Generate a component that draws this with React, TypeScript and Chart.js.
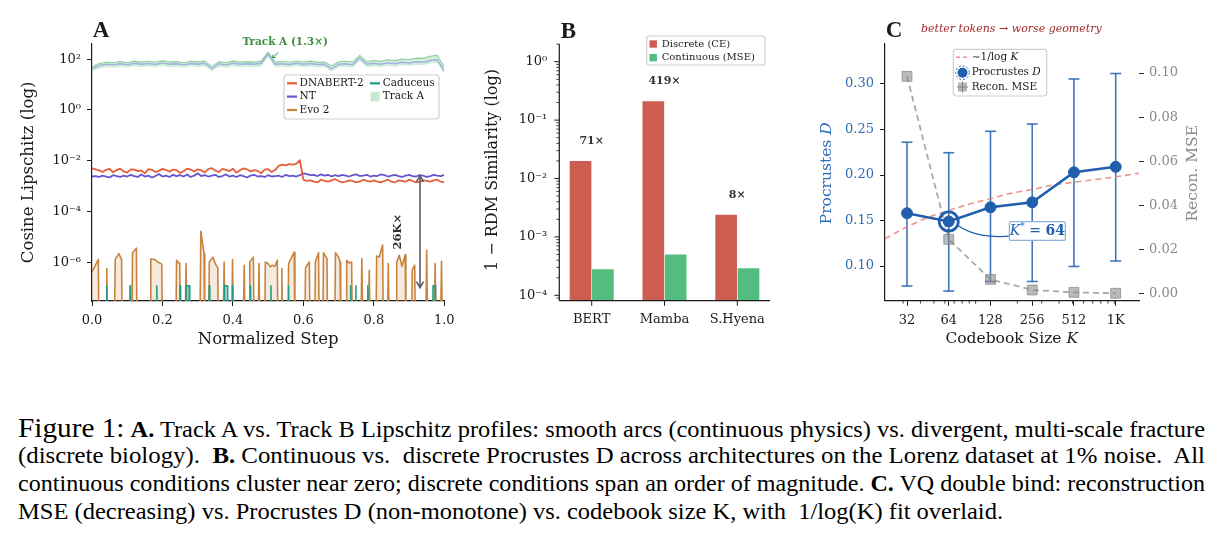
import { useEffect, useLayoutEffect, useRef } from "react";
import type { CSSProperties, ReactNode } from "react";
import { Chart, registerables } from "chart.js";

Chart.register(...registerables);

const FIG_W = 1223;
const FIG_H = 370;
const SERIF = '"DejaVu Serif", serif';
const INK = "#1a1a1a";

/* ---------------- Panel A: Lipschitz profiles ---------------- */
const stepGrid = Array.from({ length: 101 }, (_, i) => i / 100);

const dnabert2 = [
  0.005, 0.0046, 0.0042, 0.0036, 0.0044, 0.0048, 0.0035, 0.0043, 0.0049, 0.0038,
  0.0034, 0.0046, 0.0045, 0.0039, 0.0042, 0.0032, 0.0047, 0.0044, 0.0036, 0.004,
  0.0048, 0.0044, 0.0037, 0.0045, 0.0043, 0.0033, 0.0039, 0.0049, 0.0045, 0.0038,
  0.0046, 0.0042, 0.0035, 0.0047, 0.0051, 0.0041, 0.0036, 0.0048, 0.0044, 0.0039,
  0.0049, 0.0034, 0.0042, 0.005, 0.0046, 0.0038, 0.0043, 0.004, 0.0032, 0.0045,
  0.0047, 0.0036, 0.0044, 0.0063, 0.007, 0.0066, 0.0074, 0.0071, 0.0076, 0.0105,
  0.0018, 0.0016, 0.0017, 0.0015, 0.0014, 0.0018, 0.0016, 0.0015, 0.0017, 0.0019,
  0.0016, 0.0014, 0.0015, 0.0017, 0.0016, 0.0014, 0.0015, 0.0018, 0.0016, 0.0015,
  0.0017, 0.0015, 0.0014, 0.0016, 0.0018, 0.0015, 0.0014, 0.0017, 0.0016, 0.0015,
  0.0018, 0.0016, 0.0014, 0.0015, 0.0017, 0.0016, 0.0015, 0.0017, 0.0018, 0.0015,
  0.0014,
];

const nt = [
  0.0024, 0.0025, 0.0023, 0.0026, 0.0024, 0.0022, 0.0027, 0.0025, 0.0023, 0.0026,
  0.0024, 0.0028, 0.0025, 0.0023, 0.0029, 0.0024, 0.0026, 0.0022, 0.0025, 0.003,
  0.0024, 0.0026, 0.0023, 0.0028, 0.0025, 0.0027, 0.0024, 0.0029, 0.0023, 0.0026,
  0.0032, 0.0025, 0.0027, 0.0024, 0.0026, 0.0028, 0.0023, 0.0025, 0.0029, 0.0024,
  0.0026, 0.0023, 0.0027, 0.0025, 0.0022, 0.0026, 0.0028, 0.0024, 0.0025, 0.0023,
  0.0027, 0.0024, 0.0025, 0.0026, 0.0023, 0.0028, 0.0025, 0.0026, 0.0024, 0.0027,
  0.0032, 0.003, 0.0027, 0.0028, 0.0025, 0.0029, 0.0026, 0.0028, 0.0024, 0.0027,
  0.0025, 0.0028, 0.0026, 0.0024, 0.0027, 0.0029, 0.0025, 0.0026, 0.0028, 0.0024,
  0.0026, 0.0025, 0.0029, 0.0027, 0.0024, 0.0026, 0.0028, 0.0025, 0.0023, 0.0026,
  0.0028, 0.0025, 0.0024, 0.0027, 0.0026, 0.0023, 0.0025, 0.0028, 0.0026, 0.0025,
  0.0028,
];

const trackAGrid = Array.from({ length: 51 }, (_, i) => i / 50);
const trackAMean = [
  42, 56, 63, 60, 66, 60, 69, 63, 68, 62, 72, 63, 66, 60, 68, 63, 69, 42, 66, 60,
  69, 63, 66, 63, 69, 158, 63, 66, 62, 69, 63, 68, 62, 63, 42, 63, 66, 60, 112, 63,
  69, 63, 72, 66, 76, 71, 79, 76, 89, 95, 35,
];
const trackAHigh = [
  50, 68, 76, 73, 80, 73, 84, 77, 83, 76, 88, 77, 80, 73, 83, 77, 84, 52, 80, 73,
  84, 77, 80, 77, 84, 190, 77, 81, 76, 85, 78, 84, 77, 78, 54, 79, 83, 76, 142, 80,
  89, 82, 95, 88, 102, 97, 110, 108, 130, 142, 48,
];
const trackALow = [
  34, 45, 51, 48, 53, 48, 55, 51, 54, 50, 58, 51, 53, 48, 54, 51, 55, 34, 53, 48,
  55, 51, 53, 51, 55, 128, 51, 53, 50, 55, 51, 54, 50, 51, 34, 51, 53, 48, 90, 51,
  55, 51, 58, 53, 61, 57, 63, 61, 71, 76, 28,
];

// [step, value]; a value of 0 means no measurable Lipschitz signal
const evo2: [number, number][] = [
  [0, 4.2e-7], [0.018, 1.3e-6], [0.02, 0],
  [0.04, 0], [0.042, 5.7e-7], [0.044, 0],
  [0.063, 0], [0.066, 1.3e-6], [0.076, 2.2e-6], [0.084, 1.3e-6], [0.086, 0],
  [0.113, 0], [0.115, 2.4e-6], [0.126, 3.6e-6], [0.128, 0],
  [0.165, 0], [0.167, 1.35e-6], [0.178, 1.3e-6], [0.188, 1.0e-6], [0.198, 8.5e-7], [0.2, 0],
  [0.238, 0], [0.24, 1.2e-6], [0.249, 8.9e-7], [0.251, 0],
  [0.264, 0], [0.267, 8.9e-7], [0.27, 0],
  [0.306, 0], [0.309, 1.65e-5], [0.318, 2.2e-6], [0.32, 0],
  [0.331, 0], [0.333, 1.03e-6], [0.343, 1.6e-6], [0.35, 8.9e-7], [0.357, 6.0e-7], [0.359, 0],
  [0.372, 0], [0.375, 1.03e-6], [0.378, 0],
  [0.396, 0], [0.399, 1.3e-6], [0.402, 0],
  [0.429, 0], [0.432, 7.7e-7], [0.435, 0],
  [0.446, 0], [0.448, 1.03e-6], [0.458, 1.6e-6], [0.46, 0],
  [0.471, 0], [0.474, 8.9e-7], [0.477, 0],
  [0.49, 0], [0.492, 1.03e-6], [0.5, 8.9e-7], [0.506, 6.6e-7], [0.512, 7.7e-7], [0.519, 7.0e-7], [0.526, 1.2e-6], [0.528, 0],
  [0.537, 0], [0.539, 5.7e-7], [0.541, 0],
  [0.556, 0], [0.558, 8.9e-7], [0.574, 2.5e-6], [0.576, 0],
  [0.604, 0], [0.606, 6.0e-7], [0.617, 1.03e-6], [0.619, 0],
  [0.632, 0], [0.634, 1.03e-6], [0.643, 2.4e-6], [0.645, 0],
  [0.655, 0], [0.657, 2.4e-6], [0.667, 1.4e-6], [0.669, 0],
  [0.689, 0], [0.691, 2.4e-6], [0.7, 1.6e-6], [0.704, 1.03e-6], [0.706, 0],
  [0.721, 0], [0.723, 1.2e-6], [0.73, 9.5e-7], [0.737, 1.03e-6], [0.739, 0],
  [0.763, 0], [0.766, 1.4e-6], [0.769, 0],
  [0.784, 0], [0.787, 4.9e-7], [0.79, 0],
  [0.806, 0], [0.808, 1.78e-6], [0.815, 1.6e-6], [0.825, 4.8e-6], [0.827, 0],
  [0.838, 0], [0.841, 8.9e-7], [0.844, 0],
  [0.863, 0], [0.865, 1.03e-6], [0.872, 1.9e-6], [0.88, 7.0e-7], [0.889, 2.0e-6], [0.891, 0],
  [0.907, 0], [0.909, 5.0e-7], [0.916, 7.7e-7], [0.918, 0],
  [0.947, 0], [0.95, 2.95e-6], [0.953, 0],
  [0.971, 0], [0.974, 8.9e-7], [0.977, 0],
  [0.989, 0], [0.992, 1.1e-6], [0.995, 0],
];

const caduceus: [number, number][] = [
  [0.0405, 0], [0.042, 1.2e-7], [0.0435, 0],
  [0.1065, 0], [0.108, 1.2e-7], [0.1095, 0],
  [0.1825, 0], [0.184, 1.2e-7], [0.1855, 0],
  [0.2485, 0], [0.25, 1.2e-7], [0.2515, 0],
  [0.2655, 0], [0.267, 1.2e-7], [0.276, 1.2e-7], [0.2775, 0],
  [0.3315, 0], [0.333, 1.2e-7], [0.3345, 0],
  [0.3745, 0], [0.376, 1.2e-7], [0.385, 1.2e-7], [0.3865, 0],
  [0.3975, 0], [0.399, 1.2e-7], [0.4005, 0],
  [0.4485, 0], [0.45, 1.2e-7], [0.4515, 0],
  [0.5065, 0], [0.508, 1.2e-7], [0.5095, 0],
  [0.5565, 0], [0.558, 1.2e-7], [0.5595, 0],
  [0.7325, 0], [0.734, 1.2e-7], [0.7355, 0],
  [0.7475, 0], [0.749, 1.2e-7], [0.7505, 0],
  [0.7815, 0], [0.783, 1.2e-7], [0.7845, 0],
  [0.9665, 0], [0.968, 1.2e-7], [0.975, 1.2e-7], [0.9765, 0],
];

const lipschitzTicks = [1e-6, 1e-4, 1e-2, 1, 100];
const stepTicks = [0, 0.2, 0.4, 0.6, 0.8, 1];
// Track B gap marker: NT level down to the Caduceus floor
const gapStep = 0.931;
const gapTop = 2.6e-3;
const gapBottom = 1.0e-7;

/* ---------------- Panel B: RDM similarity ---------------- */
const architectures = ["BERT", "Mamba", "S.Hyena"];
const discreteCE = [0.02, 0.2095, 0.0024];
const continuousMSE = [0.00028, 0.0005, 0.00029];
const rdmTicks = [1e-4, 1e-3, 1e-2, 1e-1, 1];

/* ---------------- Panel C: VQ codebook sweep ---------------- */
const codebookSizes = [32, 64, 128, 256, 512, 1024];
const procrustesD = [0.158, 0.149, 0.1645, 0.17, 0.203, 0.209];
const procrustesLow = [0.078, 0.0725, 0.083, 0.083, 0.0995, 0.1055];
const procrustesHigh = [0.236, 0.2245, 0.248, 0.256, 0.3055, 0.3115];
const reconMSE = [0.0985, 0.0246, 0.0065, 0.0017, 0.0006, 0.0002];
const fitSizes = [22.2, 32, 45, 64, 90, 128, 181, 256, 362, 512, 724, 1024, 1508];
const fitD = [0.13, 0.143, 0.153, 0.161, 0.168, 0.174, 0.18, 0.184, 0.189, 0.192, 0.195, 0.198, 0.202];
const procrustesTicks = [0.1, 0.15, 0.2, 0.25, 0.3];
const mseTicks = [0, 0.02, 0.04, 0.06, 0.08, 0.1];
const codebookMinor = [30, 40, 50, 60, 70, 80, 90, 100, 200, 300, 400, 500, 600, 700, 800, 900, 1000];

/* ---------------- colours ---------------- */
const C_DNABERT = "#e5603a";
const C_NT = "#6656cc";
const C_EVO = "#c8843f";
const C_CADUCEUS = "#1f9a84";
const C_TRACKA_FILL = "rgba(150, 215, 170, 0.4)";
const C_TRACKA_EDGE = "rgba(110, 195, 135, 0.75)";
const C_TRACKA_LINE = "rgba(158, 172, 226, 0.95)";
const C_GREEN_TEXT = "#3a8e3c";
const C_DISCRETE = "#cd5c51";
const C_CONTINUOUS = "#53bd80";
const C_BLUE = "#1f5fae";
const C_BLUE_TEXT = "#2e6cb4";
const C_GREY_TEXT = "#8a8a8a";
const C_FIT = "rgba(230, 120, 110, 0.8)";

const FLOOR = 1e-9;

/* ---------------- drawing helpers ---------------- */
type Seg = { t: string; font: string; dy?: number };

function txt(
  ctx: CanvasRenderingContext2D,
  s: string,
  x: number,
  y: number,
  font: string,
  color: string,
  align: CanvasTextAlign = "left"
) {
  ctx.font = font;
  ctx.fillStyle = color;
  ctx.textAlign = align;
  ctx.textBaseline = "middle";
  ctx.fillText(s, x, y);
}

function segsWidth(ctx: CanvasRenderingContext2D, segs: Seg[]) {
  let w = 0;
  for (const s of segs) {
    ctx.font = s.font;
    w += ctx.measureText(s.t).width;
  }
  return w;
}

function drawSegs(
  ctx: CanvasRenderingContext2D,
  segs: Seg[],
  x: number,
  y: number,
  color: string,
  align: "left" | "center" = "left"
) {
  let cx = align === "center" ? x - segsWidth(ctx, segs) / 2 : x;
  ctx.fillStyle = color;
  ctx.textAlign = "left";
  ctx.textBaseline = "middle";
  for (const s of segs) {
    ctx.font = s.font;
    ctx.fillText(s.t, cx, y + (s.dy || 0));
    cx += ctx.measureText(s.t).width;
  }
}

function drawSegsRotated(ctx: CanvasRenderingContext2D, segs: Seg[], x: number, y: number, color: string) {
  ctx.save();
  ctx.translate(x, y);
  ctx.rotate(-Math.PI / 2);
  drawSegs(ctx, segs, 0, 0, color, "center");
  ctx.restore();
}

function line(ctx: CanvasRenderingContext2D, x1: number, y1: number, x2: number, y2: number) {
  ctx.beginPath();
  ctx.moveTo(x1, y1);
  ctx.lineTo(x2, y2);
  ctx.stroke();
}

function legendFrame(ctx: CanvasRenderingContext2D, x: number, y: number, w: number, h: number) {
  ctx.save();
  ctx.beginPath();
  ctx.roundRect(x, y, w, h, 3);
  ctx.fillStyle = "rgba(255,255,255,0.88)";
  ctx.fill();
  ctx.strokeStyle = "#cfcfcf";
  ctx.lineWidth = 1.2;
  ctx.stroke();
  ctx.restore();
}

const SUP = "⁰¹²³⁴⁵⁶⁷⁸⁹";
function decadeLabel(v: number) {
  const e = Math.round(Math.log10(v));
  const s = String(e)
    .split("")
    .map((c) => (c === "-" ? "⁻" : SUP[+c]))
    .join("");
  return "10" + s;
}

const tickFont = { family: SERIF, size: 13 };

/* ---------------- Panel A ---------------- */
function panelAConfig(): any {
  const toPts = (xs: number[], ys: number[]) => xs.map((x, i) => ({ x, y: ys[i] }));
  const toFloorPts = (pairs: [number, number][]) => pairs.map(([x, v]) => ({ x, y: v > 0 ? v : FLOOR }));

  const overlay = {
    id: "panelAOverlay",
    afterDraw(chart: any) {
      const { ctx } = chart;
      const x = chart.scales.x;
      const y = chart.scales.y;
      ctx.save();

      txt(ctx, "A", 101, 31, 'bold 23px "Liberation Serif", serif', INK, "center");
      txt(ctx, "Normalized Step", (x.left + x.right) / 2, 340, `16.5px ${SERIF}`, INK, "center");
      drawSegsRotated(ctx, [{ t: "Cosine Lipschitz (log)", font: `16.5px ${SERIF}` }], 28.3, 172.4, INK);

      // Track A callout near its highest point
      const peakIdx = trackAMean.indexOf(Math.max(...trackAMean));
      const px = x.getPixelForValue(trackAGrid[peakIdx]);
      const py = y.getPixelForValue(trackAMean[peakIdx]);
      txt(ctx, "Track A (1.3×)", px + 17, py - 11.5, `bold 10.5px ${SERIF}`, C_GREEN_TEXT, "center");
      ctx.strokeStyle = C_GREEN_TEXT;
      ctx.lineWidth = 1;
      line(ctx, px + 10, py - 1.5, px + 4.5, py + 3.5);
      line(ctx, px + 4.5, py + 3.5, px + 7.5, py + 3.3);
      line(ctx, px + 4.5, py + 3.5, px + 4.8, py + 0.6);

      // discrete-vs-continuous gap arrow
      const gx = x.getPixelForValue(gapStep);
      const gy1 = y.getPixelForValue(gapTop);
      const gy2 = y.getPixelForValue(gapBottom);
      ctx.strokeStyle = "#555555";
      ctx.lineWidth = 1.5;
      line(ctx, gx, gy1 + 1, gx, gy2 - 1);
      ctx.beginPath();
      ctx.moveTo(gx - 3.5, gy1 + 6);
      ctx.lineTo(gx, gy1);
      ctx.lineTo(gx + 3.5, gy1 + 6);
      ctx.moveTo(gx - 3.5, gy2 - 6);
      ctx.lineTo(gx, gy2);
      ctx.lineTo(gx + 3.5, gy2 - 6);
      ctx.stroke();
      const gapLabel = `${Math.round(gapTop / gapBottom / 1000)}K×`;
      drawSegsRotated(
        ctx,
        [{ t: gapLabel, font: `bold 11.5px ${SERIF}` }],
        gx - 22,
        y.getPixelForValue(Math.sqrt(gapTop * gapBottom)),
        "#333333"
      );

      // legend
      legendFrame(ctx, 284, 75, 155, 44);
      const lf = `10.5px ${SERIF}`;
      const rows = [83.3, 96.6, 110];
      const handle = (hx: number, hy: number, color: string) => {
        ctx.strokeStyle = color;
        ctx.lineWidth = 2.2;
        line(ctx, hx, hy, hx + 10, hy);
      };
      handle(287, rows[0], C_DNABERT);
      txt(ctx, "DNABERT-2", 299.5, rows[0], lf, INK);
      handle(287, rows[1], C_NT);
      txt(ctx, "NT", 299.5, rows[1], lf, INK);
      handle(287, rows[2], C_EVO);
      txt(ctx, "Evo 2", 299.5, rows[2], lf, INK);
      handle(370, rows[0], C_CADUCEUS);
      txt(ctx, "Caduceus", 382.7, rows[0], lf, INK);
      ctx.fillStyle = "rgba(150, 215, 170, 0.55)";
      ctx.fillRect(370.7, rows[1] - 4.8, 8.8, 9.6);
      txt(ctx, "Track A", 382.7, rows[1], lf, INK);

      ctx.restore();
    },
  };

  return {
    type: "line",
    data: {
      datasets: [
        {
          label: "Caduceus",
          data: toFloorPts(caduceus),
          borderColor: C_CADUCEUS,
          backgroundColor: "rgba(31, 154, 132, 0.35)",
          borderWidth: 1.5,
          fill: { value: FLOOR },
          order: 0,
        },
        {
          label: "Evo 2",
          data: toFloorPts(evo2),
          borderColor: C_EVO,
          backgroundColor: "rgba(200, 132, 63, 0.17)",
          borderWidth: 1.6,
          fill: { value: FLOOR },
          order: 1,
        },
        { label: "DNABERT-2", data: toPts(stepGrid, dnabert2), borderColor: C_DNABERT, borderWidth: 1.8, fill: false, order: 2 },
        { label: "NT", data: toPts(stepGrid, nt), borderColor: C_NT, borderWidth: 1.8, fill: false, order: 3 },
        { label: "Track A", data: toPts(trackAGrid, trackAMean), borderColor: C_TRACKA_LINE, borderWidth: 1.4, fill: false, order: 4 },
        {
          label: "Track A high",
          data: toPts(trackAGrid, trackAHigh),
          borderColor: C_TRACKA_EDGE,
          backgroundColor: C_TRACKA_FILL,
          borderWidth: 1.1,
          fill: "+1",
          order: 5,
        },
        {
          label: "Track A low",
          data: toPts(trackAGrid, trackALow),
          borderColor: "rgba(150, 215, 170, 0.45)",
          borderWidth: 0.8,
          fill: false,
          order: 6,
        },
      ],
    },
    options: {
      responsive: false,
      animation: false,
      events: [],
      layout: { padding: { left: 0, top: 43.3, right: FIG_W - 444.3, bottom: 0 } },
      plugins: { legend: { display: false }, tooltip: { enabled: false } },
      elements: { point: { radius: 0 }, line: { tension: 0, borderJoinStyle: "round" } },
      scales: {
        x: {
          type: "linear",
          min: 0,
          max: 1,
          afterFit: (s: any) => {
            s.height = FIG_H - 301;
          },
          afterBuildTicks: (s: any) => {
            s.ticks = stepTicks.map((value) => ({ value }));
          },
          ticks: { callback: (v: number) => v.toFixed(1), font: tickFont, color: INK, padding: 7, maxRotation: 0, autoSkip: false },
          grid: { display: true, drawOnChartArea: false, drawTicks: true, tickLength: 5, tickColor: INK, tickWidth: 1 },
          border: { display: true, color: INK, width: 1.2 },
        },
        y: {
          type: "logarithmic",
          min: 3.47e-8,
          max: 423,
          afterFit: (s: any) => {
            s.width = 92;
          },
          afterBuildTicks: (s: any) => {
            s.ticks = lipschitzTicks.map((value) => ({ value }));
          },
          ticks: { callback: (v: number) => decadeLabel(v), font: tickFont, color: INK, padding: 6, autoSkip: false },
          grid: { display: true, drawOnChartArea: false, drawTicks: true, tickLength: 5, tickColor: INK, tickWidth: 1 },
          border: { display: true, color: INK, width: 1.2 },
        },
      },
    },
    plugins: [overlay],
  };
}

/* ---------------- Panel B ---------------- */
function panelBConfig(): any {
  const SPINE_L = 559.3;
  const SPINE_R = 770;

  const overlay = {
    id: "panelBOverlay",
    afterDraw(chart: any) {
      const { ctx } = chart;
      const x = chart.scales.x;
      const y = chart.scales.y;
      const bottom = chart.chartArea.bottom;
      const top = chart.chartArea.top;
      ctx.save();

      // spines
      ctx.strokeStyle = INK;
      ctx.lineWidth = 1.2;
      line(ctx, SPINE_L, top, SPINE_L, bottom);
      line(ctx, SPINE_L, bottom, SPINE_R, bottom);

      // major and minor log ticks
      for (let e = -5; e <= 0; e++) {
        for (let k = 1; k <= 9; k++) {
          const v = k * Math.pow(10, e);
          if (v < y.min || v > y.max) continue;
          const py = y.getPixelForValue(v);
          ctx.lineWidth = k === 1 ? 1 : 0.8;
          line(ctx, SPINE_L, py, SPINE_L - (k === 1 ? 5 : 3), py);
        }
      }
      ctx.lineWidth = 1;
      architectures.forEach((_, i) => {
        const px = x.getPixelForValue(i);
        line(ctx, px, bottom, px, bottom + 5);
      });

      // discrete / continuous ratio above each group
      architectures.forEach((_, i) => {
        const ratio = Math.round(discreteCE[i] / continuousMSE[i]);
        const px = x.getPixelForValue(i);
        const py = y.getPixelForValue(discreteCE[i]) - 20;
        txt(ctx, `${ratio}×`, px, py, `bold 11px ${SERIF}`, "#333333", "center");
      });

      txt(ctx, "B", 568.5, 32, 'bold 23px "Liberation Serif", serif', INK, "center");
      drawSegsRotated(ctx, [{ t: "1 − RDM Similarity (log)", font: `16px ${SERIF}` }], 493, 170, INK);

      // legend
      legendFrame(ctx, 646.7, 36, 118.3, 29);
      const lf = `10px ${SERIF}`;
      ctx.fillStyle = C_DISCRETE;
      ctx.fillRect(649.5, 44 - 3.7, 7.4, 7.4);
      txt(ctx, "Discrete (CE)", 661.7, 44, lf, INK);
      ctx.fillStyle = C_CONTINUOUS;
      ctx.fillRect(649.5, 57.7 - 3.7, 7.4, 7.4);
      txt(ctx, "Continuous (MSE)", 661.7, 57.7, lf, INK);

      ctx.restore();
    },
  };

  return {
    type: "bar",
    data: {
      labels: architectures,
      datasets: [
        { label: "Discrete (CE)", data: discreteCE, backgroundColor: C_DISCRETE, borderWidth: 0 },
        { label: "Continuous (MSE)", data: continuousMSE, backgroundColor: C_CONTINUOUS, borderWidth: 0 },
      ],
    },
    options: {
      responsive: false,
      animation: false,
      events: [],
      datasets: { bar: { categoryPercentage: 0.614, barPercentage: 0.97 } },
      layout: { padding: { left: 470, top: 44, right: FIG_W - 773.7, bottom: 0 } },
      plugins: { legend: { display: false }, tooltip: { enabled: false } },
      scales: {
        x: {
          type: "category",
          offset: true,
          afterFit: (s: any) => {
            s.height = FIG_H - 300.7;
          },
          ticks: { font: tickFont, color: INK, padding: 11, maxRotation: 0, autoSkip: false },
          grid: { display: false, drawTicks: false },
          border: { display: false },
        },
        y: {
          type: "logarithmic",
          min: 8.09e-5,
          max: 2.01,
          afterFit: (s: any) => {
            s.width = 85.3;
          },
          afterBuildTicks: (s: any) => {
            s.ticks = rdmTicks.map((value) => ({ value }));
          },
          ticks: { callback: (v: number) => decadeLabel(v), font: tickFont, color: INK, padding: 8, autoSkip: false },
          grid: { display: false, drawTicks: false },
          border: { display: false },
        },
      },
    },
    plugins: [overlay],
  };
}

/* ---------------- Panel C ---------------- */
function panelCConfig(): any {
  const bestIdx = procrustesD.indexOf(Math.min(...procrustesD));
  const bestK = codebookSizes[bestIdx];

  const overlay = {
    id: "panelCOverlay",
    beforeDatasetsDraw(chart: any) {
      const { ctx } = chart;
      const x = chart.scales.x;
      const y = chart.scales.y;
      ctx.save();
      ctx.strokeStyle = "rgba(31, 95, 174, 0.85)";
      ctx.lineWidth = 1.6;
      codebookSizes.forEach((k, i) => {
        const px = x.getPixelForValue(k);
        const t = y.getPixelForValue(procrustesHigh[i]);
        const b = y.getPixelForValue(procrustesLow[i]);
        line(ctx, px, t, px, b);
        line(ctx, px - 5.5, t, px + 5.5, t);
        line(ctx, px - 5.5, b, px + 5.5, b);
      });
      ctx.restore();
    },
    afterDatasetsDraw(chart: any) {
      const { ctx } = chart;
      const x = chart.scales.x;
      const y = chart.scales.y;
      const px = x.getPixelForValue(bestK);
      const py = y.getPixelForValue(procrustesD[bestIdx]);
      ctx.save();
      ctx.strokeStyle = C_BLUE;
      ctx.lineWidth = 2.8;
      ctx.beginPath();
      ctx.arc(px, py, 9.5, 0, Math.PI * 2);
      ctx.stroke();

      // callout connector and box
      const bx = px + 60.6;
      const by = py + 0.3;
      const bw = 56;
      const bh = 18.7;
      ctx.lineWidth = 1.3;
      ctx.beginPath();
      ctx.moveTo(px + 9.6, py + 4.3);
      ctx.quadraticCurveTo(px + 28, py + 17, bx, py + 14.8);
      ctx.stroke();
      ctx.beginPath();
      ctx.roundRect(bx, by, bw, bh, 2);
      ctx.fillStyle = "#ffffff";
      ctx.fill();
      ctx.strokeStyle = "#8cb2de";
      ctx.lineWidth = 1.2;
      ctx.stroke();
      drawSegs(
        ctx,
        [
          { t: "K", font: `italic 14px ${SERIF}` },
          { t: "*", font: `9px ${SERIF}`, dy: -5 },
          { t: " = ", font: `14px ${SERIF}` },
          { t: String(bestK), font: `bold 14px ${SERIF}` },
        ],
        bx + bw / 2,
        by + bh / 2 + 0.5,
        C_BLUE,
        "center"
      );
      ctx.restore();
    },
    afterDraw(chart: any) {
      const { ctx } = chart;
      const x = chart.scales.x;
      const bottom = chart.chartArea.bottom;
      ctx.save();

      // minor ticks on the codebook axis
      ctx.strokeStyle = INK;
      ctx.lineWidth = 0.8;
      codebookMinor.forEach((v) => {
        const px = x.getPixelForValue(v);
        line(ctx, px, bottom, px, bottom + 3);
      });

      txt(ctx, "C", 894, 31, 'bold 23px "Liberation Serif", serif', INK, "center");
      txt(ctx, "better tokens → worse geometry", 1011.3, 29.3, `italic 11px ${SERIF}`, "#a02a2a", "center");

      drawSegs(
        ctx,
        [
          { t: "Codebook Size ", font: `15.5px ${SERIF}` },
          { t: "K", font: `italic 15.5px ${SERIF}` },
        ],
        1011.7,
        339.3,
        INK,
        "center"
      );
      drawSegsRotated(
        ctx,
        [
          { t: "Procrustes ", font: `15.5px ${SERIF}` },
          { t: "D", font: `italic 15.5px ${SERIF}` },
        ],
        826.7,
        173.3,
        C_BLUE_TEXT
      );
      drawSegsRotated(ctx, [{ t: "Recon. MSE", font: `15.5px ${SERIF}` }], 1193.3, 173.3, C_GREY_TEXT);

      // legend
      legendFrame(ctx, 953.3, 49.3, 93.4, 46.7);
      const lf = `10.5px ${SERIF}`;
      const r1 = 57.3;
      const r2 = 72.7;
      const r3 = 87;
      ctx.strokeStyle = C_FIT;
      ctx.lineWidth = 1.5;
      ctx.setLineDash([4, 3]);
      line(ctx, 956, r1, 969, r1);
      ctx.setLineDash([]);
      drawSegs(
        ctx,
        [
          { t: "∼1/log ", font: lf },
          { t: "K", font: `italic 10.5px ${SERIF}` },
        ],
        971.7,
        r1,
        INK
      );
      ctx.fillStyle = C_BLUE;
      ctx.beginPath();
      ctx.arc(962.5, r2, 5, 0, Math.PI * 2);
      ctx.fill();
      ctx.strokeStyle = C_BLUE;
      ctx.lineWidth = 1;
      ctx.setLineDash([2, 2]);
      ctx.beginPath();
      ctx.arc(962.5, r2, 6.8, 0, Math.PI * 2);
      ctx.stroke();
      ctx.setLineDash([]);
      drawSegs(
        ctx,
        [
          { t: "Procrustes ", font: lf },
          { t: "D", font: `italic 10.5px ${SERIF}` },
        ],
        971.7,
        r2,
        INK
      );
      ctx.fillStyle = "rgba(140,140,140,0.65)";
      ctx.fillRect(958, r3 - 4.5, 9, 9);
      ctx.strokeStyle = "rgba(120,120,120,0.8)";
      ctx.lineWidth = 1;
      line(ctx, 962.5, r3 - 6, 962.5, r3 + 6);
      line(ctx, 957, r3, 968, r3);
      txt(ctx, "Recon. MSE", 971.7, r3, lf, INK);

      ctx.restore();
    },
  };

  return {
    type: "line",
    data: {
      datasets: [
        {
          label: "Procrustes D",
          data: codebookSizes.map((k, i) => ({ x: k, y: procrustesD[i] })),
          yAxisID: "y",
          borderColor: C_BLUE,
          borderWidth: 2.6,
          pointRadius: 5.5,
          pointBackgroundColor: C_BLUE,
          pointBorderColor: C_BLUE,
          pointBorderWidth: 1,
          order: 0,
        },
        {
          label: "Recon. MSE",
          data: codebookSizes.map((k, i) => ({ x: k, y: reconMSE[i] })),
          yAxisID: "y2",
          borderColor: "rgba(160,160,160,0.9)",
          borderDash: [6, 4],
          borderWidth: 1.8,
          pointStyle: "rect",
          pointRadius: 7,
          pointBackgroundColor: "rgba(140,140,140,0.6)",
          pointBorderColor: "rgba(120,120,120,0.6)",
          pointBorderWidth: 1,
          order: 1,
        },
        {
          label: "~1/log K",
          data: fitSizes.map((k, i) => ({ x: k, y: fitD[i] })),
          yAxisID: "y",
          borderColor: C_FIT,
          borderDash: [6, 4],
          borderWidth: 1.6,
          pointRadius: 0,
          cubicInterpolationMode: "monotone",
          order: 2,
        },
      ],
    },
    options: {
      responsive: false,
      animation: false,
      events: [],
      layout: { padding: { left: 780, top: 43.3, right: 0, bottom: 0 } },
      plugins: { legend: { display: false }, tooltip: { enabled: false } },
      scales: {
        x: {
          type: "logarithmic",
          min: 22.2,
          max: 1508,
          afterFit: (s: any) => {
            s.height = FIG_H - 300.7;
          },
          afterBuildTicks: (s: any) => {
            s.ticks = codebookSizes.map((value) => ({ value }));
          },
          ticks: {
            callback: (v: number) => (v >= 1024 ? "1K" : String(v)),
            font: tickFont,
            color: INK,
            padding: 7,
            maxRotation: 0,
            autoSkip: false,
          },
          grid: { display: true, drawOnChartArea: false, drawTicks: true, tickLength: 5, tickColor: INK, tickWidth: 1 },
          border: { display: true, color: INK, width: 1.2 },
        },
        y: {
          type: "linear",
          position: "left",
          min: 0.0619,
          max: 0.3447,
          afterFit: (s: any) => {
            s.width = 105;
          },
          afterBuildTicks: (s: any) => {
            s.ticks = procrustesTicks.map((value) => ({ value }));
          },
          ticks: { callback: (v: number) => v.toFixed(2), font: tickFont, color: C_BLUE_TEXT, padding: 6, autoSkip: false },
          grid: { display: true, drawOnChartArea: false, drawTicks: true, tickLength: 5, tickColor: INK, tickWidth: 1 },
          border: { display: true, color: INK, width: 1.2 },
        },
        y2: {
          type: "linear",
          position: "right",
          min: -0.00317,
          max: 0.11346,
          afterFit: (s: any) => {
            s.width = FIG_W - 1139;
          },
          afterBuildTicks: (s: any) => {
            s.ticks = mseTicks.map((value) => ({ value }));
          },
          ticks: { callback: (v: number) => v.toFixed(2), font: tickFont, color: C_GREY_TEXT, padding: 5, autoSkip: false },
          grid: { display: true, drawOnChartArea: false, drawTicks: true, tickLength: 5, tickColor: "#333333", tickWidth: 1 },
          border: { display: false },
        },
      },
    },
    plugins: [overlay],
  };
}

/* ---------------- caption ---------------- */
// Each caption line is set on one row and stretched horizontally to its measure.
function CaptionLine({ top, measure, children }: { top: number; measure: number; children: ReactNode }) {
  const ref = useRef<HTMLSpanElement>(null);
  useLayoutEffect(() => {
    const el = ref.current;
    if (!el) return;
    el.style.transform = "none";
    const natural = el.getBoundingClientRect().width;
    if (natural > 0) el.style.transform = `scaleX(${measure / natural})`;
  }, [measure]);
  return (
    <div
      style={{
        position: "absolute",
        left: 18,
        top,
        height: 28,
        lineHeight: "28px",
        whiteSpace: "nowrap",
        fontFamily: '"Liberation Serif", "Times New Roman", serif',
        fontSize: 22.5,
        color: "#000",
      }}
    >
      <span ref={ref} style={{ display: "inline-block", transformOrigin: "0 50%" }}>
        {children}
      </span>
    </div>
  );
}

function Caption() {
  return (
    <>
      <CaptionLine top={414} measure={1187}>
        <span style={{ fontSize: 27 }}>Figure 1:</span> <b>A.</b> Track A vs. Track B Lipschitz profiles: smooth arcs
        (continuous physics) vs. divergent, multi-scale fracture
      </CaptionLine>
      <CaptionLine top={442} measure={1187}>
        (discrete biology).&nbsp; <b>B.</b> Continuous vs.&nbsp; discrete Procrustes D across architectures on the Lorenz
        dataset at 1% noise.&nbsp; All
      </CaptionLine>
      <CaptionLine top={470} measure={1187}>
        continuous conditions cluster near zero; discrete conditions span an order of magnitude. <b>C.</b> VQ double
        bind: reconstruction
      </CaptionLine>
      <CaptionLine top={498} measure={985}>
        MSE (decreasing) vs. Procrustes D (non-monotone) vs. codebook size K, with&nbsp; 1/log(K) fit overlaid.
      </CaptionLine>
    </>
  );
}

export default function App() {
  const aRef = useRef<HTMLCanvasElement>(null);
  const bRef = useRef<HTMLCanvasElement>(null);
  const cRef = useRef<HTMLCanvasElement>(null);

  useEffect(() => {
    const charts = [
      new Chart(aRef.current!, panelAConfig()),
      new Chart(bRef.current!, panelBConfig()),
      new Chart(cRef.current!, panelCConfig()),
    ];
    return () => charts.forEach((c) => c.destroy());
  }, []);

  const canvasStyle: CSSProperties = { position: "absolute", left: 0, top: 0, width: FIG_W, height: FIG_H };

  return (
    <div
      style={{
        position: "absolute",
        left: 0,
        top: 0,
        width: FIG_W,
        height: 542,
        background: "#ffffff",
        overflow: "hidden",
      }}
    >
      <canvas ref={aRef} width={FIG_W} height={FIG_H} style={canvasStyle} />
      <canvas ref={bRef} width={FIG_W} height={FIG_H} style={canvasStyle} />
      <canvas ref={cRef} width={FIG_W} height={FIG_H} style={canvasStyle} />
      <Caption />
    </div>
  );
}
